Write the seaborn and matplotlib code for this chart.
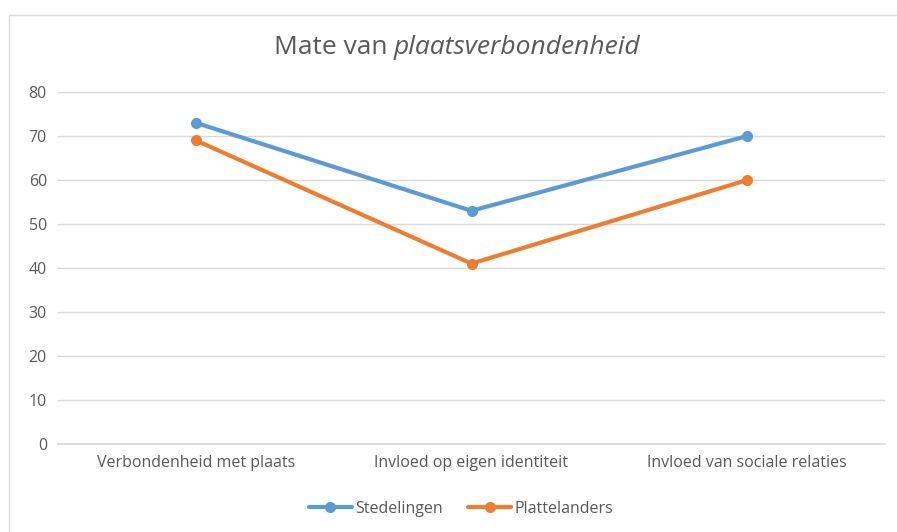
import pandas as pd
import matplotlib.pyplot as plt
import seaborn as sns
from matplotlib.lines import Line2D

# chart data
categories = ["Verbondenheid met plaats", "Invloed op eigen identiteit", "Invloed van sociale relaties"]
stedelingen = [73, 53, 70]
plattelanders = [69, 41, 60]
series_names = ["Stedelingen", "Plattelanders"]
colors = ["#5B9BD5", "#ED7D31"]

df = pd.DataFrame({
    "categorie": categories * 2,
    "waarde": stedelingen + plattelanders,
    "groep": [series_names[0]] * 3 + [series_names[1]] * 3,
})

sns.set_theme(style="white")
plt.rcParams["font.family"] = ["Open Sans", "DejaVu Sans"]

fig = plt.figure(figsize=(8.97, 5.32), dpi=100)
ax = fig.add_axes([58 / 897, 1 - 444 / 532, (885 - 58) / 897, (444 - 92) / 532])

sns.lineplot(data=df, x="categorie", y="waarde", hue="groep",
             palette=colors, marker="o", markersize=8, markeredgewidth=0,
             linewidth=3, sort=False, legend=False, ax=ax)

ax.set_xlim(-0.5, 2.5)
ax.set_ylim(0, 80)
ax.set_yticks(range(0, 81, 10))
ax.yaxis.grid(True, color="#D9D9D9", linewidth=1)
ax.set_axisbelow(True)
for side in ["top", "right", "left"]:
    ax.spines[side].set_visible(False)
ax.spines["bottom"].set_color("#D9D9D9")
ax.tick_params(axis="both", length=0, labelsize=11.5, labelcolor="#595959")
ax.tick_params(axis="y", pad=8)
ax.tick_params(axis="x", pad=8)
ax.set_xlabel("")
ax.set_ylabel("")

title_y = 1 - 48 / 532
fig.text(394 / 897, title_y, "Mate van ", ha="right", va="center",
         fontsize=19, color="#595959")
fig.text(394 / 897, title_y, "plaatsverbondenheid", ha="left", va="center",
         fontsize=19, color="#595959", style="italic")

handles = [Line2D([], [], color=c, linewidth=3, marker="o", markersize=8,
                  markeredgewidth=0) for c in colors]
fig.legend(handles, series_names, loc="center", bbox_to_anchor=(461 / 897, 1 - 509 / 532),
           ncol=2, frameon=False, fontsize=11.5, labelcolor="#595959",
           handlelength=2.7, handletextpad=0.2, columnspacing=1.6)

# chart area frame (only the top and left edges are visible in the crop)
fig.add_artist(Line2D([9 / 897, 9 / 897], [0, 1 - 15 / 532], color="#D9D9D9", linewidth=1,
                      transform=fig.transFigure))
fig.add_artist(Line2D([9 / 897, 1], [1 - 15 / 532, 1 - 15 / 532], color="#D9D9D9", linewidth=1,
                      transform=fig.transFigure))

fig.savefig("out.png", dpi=100, facecolor="white")
